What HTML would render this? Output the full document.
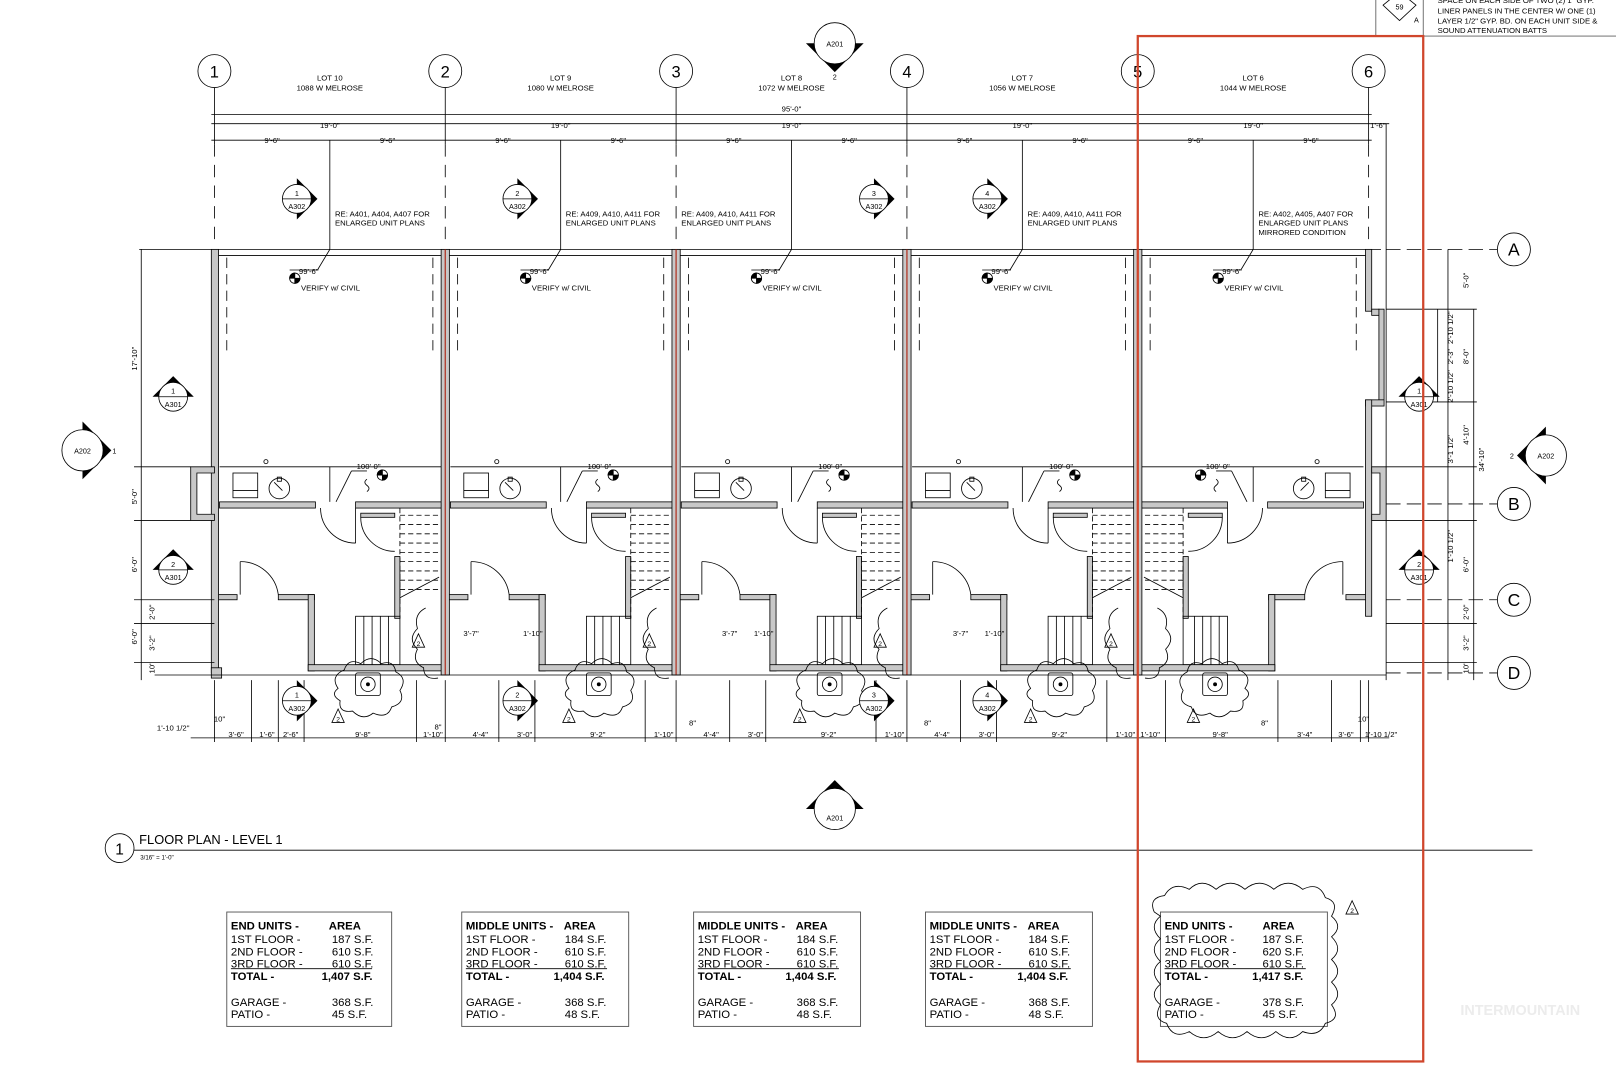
<!DOCTYPE html>
<html><head><meta charset="utf-8"><style>html,body{margin:0;padding:0;background:#fff}svg{display:block}</style></head>
<body>
<svg width="1616" height="1080" viewBox="0 0 1568 1048" xmlns="http://www.w3.org/2000/svg" font-family="Liberation Sans, sans-serif">
<defs>
<g id="unit" stroke="#000" stroke-width="0.8" fill="none">
  <line x1="12" y1="250" x2="12" y2="340" stroke-dasharray="10,6"/>
  <line x1="212" y1="250" x2="212" y2="340" stroke-dasharray="10,6"/>
  <line x1="5" y1="453" x2="220" y2="453"/>
  <line x1="112" y1="453" x2="112" y2="487"/>
  <rect x="18" y="459" width="24" height="24"/>
  <line x1="18" y1="476" x2="42" y2="476"/>
  <circle cx="63" cy="474" r="10"/>
  <line x1="58" y1="468" x2="66" y2="476"/>
  <rect x="61" y="463" width="4" height="4"/>
  <circle cx="50" cy="448" r="2"/>
  <rect x="5" y="487" width="93" height="6" fill="#c8c8c8"/>
  <rect x="137" y="487" width="85" height="6" fill="#c8c8c8"/>
  <line x1="137" y1="493" x2="137" y2="527"/>
  <path d="M103,493 A34,34 0 0 0 137,527"/>
  <rect x="142" y="498" width="33" height="4" fill="#c8c8c8"/>
  <path d="M142,502 A33,33 0 0 0 175,535"/>
  <rect x="175" y="540" width="5" height="60" fill="#c8c8c8"/>
  <g stroke-dasharray="5,3">
    <line x1="180" y1="500" x2="220" y2="500"/><line x1="180" y1="509" x2="220" y2="509"/>
    <line x1="180" y1="518" x2="220" y2="518"/><line x1="180" y1="527" x2="220" y2="527"/>
    <line x1="180" y1="536" x2="220" y2="536"/><line x1="180" y1="545" x2="220" y2="545"/>
    <line x1="180" y1="554" x2="220" y2="554"/><line x1="180" y1="563" x2="220" y2="563"/>
    <line x1="180" y1="572" x2="220" y2="572"/>
    <line x1="180" y1="493" x2="180" y2="600"/>
  </g>
  <line x1="180" y1="580" x2="218" y2="560"/>
  <rect x="137" y="598" width="43" height="47"/>
  <line x1="145" y1="598" x2="145" y2="645"/><line x1="153" y1="598" x2="153" y2="645"/>
  <line x1="161" y1="598" x2="161" y2="645"/><line x1="169" y1="598" x2="169" y2="645"/>
  <rect x="0" y="577" width="22" height="5" fill="#c8c8c8"/>
  <rect x="62" y="577" width="35" height="5" fill="#c8c8c8"/>
  <rect x="91" y="577" width="6" height="74" fill="#c8c8c8"/>
  <rect x="91" y="645" width="131" height="6" fill="#c8c8c8"/>
  <line x1="25" y1="545" x2="25" y2="577"/>
  <path d="M25,545 A37,37 0 0 1 62,577"/>
  <rect x="137" y="653" width="24" height="22" rx="2"/>
  <circle cx="149" cy="664" r="7"/><circle cx="149" cy="664" r="1.5" fill="#000"/>
  <path d="M120,668 q-8,-12 6,-18 q4,-12 16,-6 q10,-10 20,0 q12,-4 14,8 q12,6 4,18 q6,12 -8,16 q-4,12 -18,6 q-10,8 -20,-2 q-14,2 -12,-10 q-10,-6 -2,-12z"/>
  <path d="M205,590 q-12,6 -8,20 q-10,10 0,20 q-6,12 6,18 q0,12 14,10"/>
  <line x1="148" y1="457" x2="133" y2="457"/><line x1="133" y1="457" x2="118" y2="487"/>
  <circle cx="163" cy="461" r="5"/>
  <path d="M163,461 L163,456 A5,5 0 0 0 158,461Z M163,461 L168,461 A5,5 0 0 1 163,466Z" fill="#000"/>
  <path d="M148,477 q4,-3 0,-6 q-4,-3 0,-6" />
</g>
<g id="elev" stroke="#000" stroke-width="0.8" fill="none">
  <line x1="73" y1="262" x2="100" y2="262"/><line x1="100" y1="262" x2="112" y2="242"/>
  <circle cx="78" cy="270" r="5"/>
  <path d="M78,270 L78,265 A5,5 0 0 0 73,270Z M78,270 L83,270 A5,5 0 0 1 78,275Z" fill="#000"/>
</g>
<g id="secR"><polygon points="0,-20 20,0 0,20" fill="#000"/><circle r="14" fill="#fff" stroke="#000" stroke-width="0.8"/><line x1="-14" x2="14" stroke="#000" stroke-width="0.8"/></g>
<g id="secU"><polygon points="-20,0 0,-20 20,0" fill="#000"/><circle r="14" fill="#fff" stroke="#000" stroke-width="0.8"/><line x1="-14" x2="14" stroke="#000" stroke-width="0.8"/></g>
</defs>

<!-- top-right note -->
<rect x="1335" y="-2" width="250" height="37" fill="none" stroke="#555" stroke-width="0.8"/>
<line x1="1381" y1="0" x2="1381" y2="35" stroke="#555" stroke-width="0.8"/>
<polygon points="1358,-8 1374,5 1358,20 1342,5" fill="#fff" stroke="#000" stroke-width="0.8"/>
<text x="1358" y="9" font-size="7" text-anchor="middle">59</text>
<text x="1372" y="22" font-size="7">A</text>
<g font-size="7.5"><text x="1395" y="3">SPACE ON EACH SIDE OF TWO (2) 1" GYP.</text>
<text x="1395" y="13">LINER PANELS IN THE CENTER W/ ONE (1)</text>
<text x="1395" y="23">LAYER 1/2" GYP. BD. ON EACH UNIT SIDE &amp;</text>
<text x="1395" y="32">SOUND ATTENUATION BATTS</text></g>

<!-- grid bubbles -->
<g stroke="#000" stroke-width="0.8" fill="none">
<circle cx="208" cy="69" r="16"/><circle cx="432" cy="69" r="16"/><circle cx="656" cy="69" r="16"/>
<circle cx="880" cy="69" r="16"/><circle cx="1104" cy="69" r="16"/><circle cx="1328" cy="69" r="16"/>
<line x1="208" y1="85" x2="208" y2="140"/><line x1="432" y1="85" x2="432" y2="140"/><line x1="656" y1="85" x2="656" y2="140"/>
<line x1="880" y1="85" x2="880" y2="140"/><line x1="1104" y1="85" x2="1104" y2="140"/><line x1="1328" y1="85" x2="1328" y2="140"/>
<line x1="205" y1="111" x2="1331" y2="111"/>
<line x1="205" y1="120" x2="1348" y2="120"/>
<line x1="205" y1="136" x2="1331" y2="136"/>
<line x1="208" y1="140" x2="208" y2="232" stroke-dasharray="12,8"/>
<line x1="1328" y1="140" x2="1328" y2="232" stroke-dasharray="12,8"/>
<line x1="1345" y1="120" x2="1345" y2="660"/>
<line x1="320" y1="136" x2="320" y2="242"/><line x1="544" y1="136" x2="544" y2="242"/>
<line x1="768" y1="136" x2="768" y2="242"/><line x1="992" y1="136" x2="992" y2="242"/><line x1="1216" y1="136" x2="1216" y2="242"/>
<line x1="432" y1="140" x2="432" y2="232" stroke-dasharray="12,8"/><line x1="656" y1="140" x2="656" y2="232" stroke-dasharray="12,8"/>
<line x1="880" y1="140" x2="880" y2="232" stroke-dasharray="12,8"/><line x1="1104" y1="140" x2="1104" y2="232" stroke-dasharray="12,8"/>
</g>
<g font-size="16" text-anchor="middle"><text x="208" y="75">1</text><text x="432" y="75">2</text><text x="656" y="75">3</text><text x="880" y="75">4</text><text x="1104" y="75">5</text><text x="1328" y="75">6</text></g>
<g font-size="7.5" text-anchor="middle">
<text x="320" y="78">LOT 10</text><text x="320" y="88">1088 W MELROSE</text>
<text x="544" y="78">LOT 9</text><text x="544" y="88">1080 W MELROSE</text>
<text x="768" y="78">LOT 8</text><text x="768" y="88">1072 W MELROSE</text>
<text x="992" y="78">LOT 7</text><text x="992" y="88">1056 W MELROSE</text>
<text x="1216" y="78">LOT 6</text><text x="1216" y="88">1044 W MELROSE</text>
<text x="768" y="108">95'-0"</text>
<text x="320" y="124">19'-0"</text><text x="544" y="124">19'-0"</text><text x="768" y="124">19'-0"</text><text x="992" y="124">19'-0"</text><text x="1216" y="124">19'-0"</text><text x="1337" y="124">1'-6"</text>
<text x="264" y="139">9'-6"</text><text x="376" y="139">9'-6"</text><text x="488" y="139">9'-6"</text><text x="600" y="139">9'-6"</text>
<text x="712" y="139">9'-6"</text><text x="824" y="139">9'-6"</text><text x="936" y="139">9'-6"</text><text x="1048" y="139">9'-6"</text>
<text x="1160" y="139">9'-6"</text><text x="1272" y="139">9'-6"</text>
</g>
<g font-size="7.5">
<text x="325" y="210">RE: A401, A404, A407 FOR</text><text x="325" y="219">ENLARGED UNIT PLANS</text>
<text x="549" y="210">RE: A409, A410, A411 FOR</text><text x="549" y="219">ENLARGED UNIT PLANS</text>
<text x="661" y="210">RE: A409, A410, A411 FOR</text><text x="661" y="219">ENLARGED UNIT PLANS</text>
<text x="997" y="210">RE: A409, A410, A411 FOR</text><text x="997" y="219">ENLARGED UNIT PLANS</text>
<text x="1221" y="210">RE: A402, A405, A407 FOR</text><text x="1221" y="219">ENLARGED UNIT PLANS</text><text x="1221" y="228">MIRRORED CONDITION</text>
</g>

<!-- units -->
<use href="#unit" transform="translate(208,0)"/>
<use href="#unit" transform="translate(432,0)"/>
<use href="#unit" transform="translate(656,0)"/>
<use href="#unit" transform="translate(880,0)"/>
<use href="#unit" transform="translate(1328,0) scale(-1,1)"/>
<use href="#elev" transform="translate(208,0)"/><use href="#elev" transform="translate(432,0)"/>
<use href="#elev" transform="translate(656,0)"/><use href="#elev" transform="translate(880,0)"/>
<use href="#elev" transform="translate(1104,0)"/>
<g font-size="7.5">
<text x="290" y="266">99'-6"</text><text x="292" y="282">VERIFY w/ CIVIL</text>
<text x="514" y="266">99'-6"</text><text x="516" y="282">VERIFY w/ CIVIL</text>
<text x="738" y="266">99'-6"</text><text x="740" y="282">VERIFY w/ CIVIL</text>
<text x="962" y="266">99'-6"</text><text x="964" y="282">VERIFY w/ CIVIL</text>
<text x="1186" y="266">99'-6"</text><text x="1188" y="282">VERIFY w/ CIVIL</text>
<text x="346" y="455">100'-0"</text><text x="570" y="455">100'-0"</text><text x="794" y="455">100'-0"</text><text x="1018" y="455">100'-0"</text><text x="1170" y="455">100'-0"</text>
</g>

<!-- outer walls -->
<g stroke="#000" stroke-width="0.8" fill="#c8c8c8">
<line x1="135" y1="242" x2="1340" y2="242" fill="none"/>
<line x1="212" y1="248" x2="1325" y2="248" fill="none"/>
<rect x="205" y="242" width="7" height="411"/>
<path d="M208,453 H185 V505 H208 V499 H191 V459 H208Z"/>
<rect x="428" y="242" width="8" height="413"/><rect x="652" y="242" width="8" height="413"/>
<rect x="876" y="242" width="8" height="413"/><rect x="1100" y="242" width="8" height="413"/>
<rect x="1325" y="242" width="6" height="60"/>
<rect x="1331" y="300" width="7" height="6"/>
<rect x="1338" y="300" width="5" height="90"/>
<rect x="1325" y="388" width="18" height="6"/>
<rect x="1325" y="388" width="6" height="210"/>
<path d="M1331,453 H1345 V505 H1331 V499 H1339 V459 H1331Z"/>
<rect x="205" y="648" width="10" height="10"/>
</g>
<g stroke="#b03020" stroke-width="1.2">
<line x1="432" y1="242" x2="432" y2="655"/><line x1="656" y1="242" x2="656" y2="655"/>
<line x1="880" y1="242" x2="880" y2="655"/><line x1="1104" y1="242" x2="1104" y2="655"/>
</g>
<line x1="150" y1="655" x2="1345" y2="655" stroke="#000" stroke-width="0.8"/>

<!-- right grid -->
<g stroke="#000" stroke-width="0.8" fill="none">
<circle cx="1469" cy="242" r="16"/><circle cx="1469" cy="489" r="16"/><circle cx="1469" cy="582" r="16"/><circle cx="1469" cy="653" r="16"/>
<line x1="1345" y1="242" x2="1453" y2="242" stroke-dasharray="14,6"/>
<line x1="1345" y1="489" x2="1453" y2="489" stroke-dasharray="14,6"/>
<line x1="1345" y1="582" x2="1453" y2="582" stroke-dasharray="14,6"/>
<line x1="1345" y1="653" x2="1453" y2="653" stroke-dasharray="14,6"/>
<line x1="1405" y1="242" x2="1405" y2="660"/><line x1="1430" y1="300" x2="1430" y2="660"/>
<line x1="1395" y1="300" x2="1395" y2="390"/>
<line x1="1345" y1="300" x2="1433" y2="300"/><line x1="1345" y1="390" x2="1433" y2="390"/>
<line x1="1345" y1="453" x2="1433" y2="453"/><line x1="1345" y1="505" x2="1433" y2="505"/>
<line x1="1345" y1="605" x2="1433" y2="605"/><line x1="1345" y1="643" x2="1433" y2="643"/>
<line x1="137" y1="242" x2="137" y2="660"/>
<line x1="130" y1="453" x2="185" y2="453"/><line x1="130" y1="505" x2="185" y2="505"/>
<line x1="130" y1="582" x2="208" y2="582"/><line x1="130" y1="605" x2="208" y2="605"/><line x1="130" y1="643" x2="208" y2="643"/>
</g>
<g font-size="17" text-anchor="middle"><text x="1469" y="248">A</text><text x="1469" y="495">B</text><text x="1469" y="588">C</text><text x="1469" y="659">D</text></g>
<g font-size="7.5" text-anchor="middle">
<text transform="translate(1425,272) rotate(-90)">5'-0"</text>
<text transform="translate(1410,318) rotate(-90)">2'-10 1/2"</text>
<text transform="translate(1410,346) rotate(-90)">2'-3"</text>
<text transform="translate(1425,346) rotate(-90)">8'-0"</text>
<text transform="translate(1410,375) rotate(-90)">2'-10 1/2"</text>
<text transform="translate(1425,422) rotate(-90)">4'-10"</text>
<text transform="translate(1410,436) rotate(-90)">3'-1 1/2"</text>
<text transform="translate(1440,446) rotate(-90)">34'-10"</text>
<text transform="translate(1410,530) rotate(-90)">1'-10 1/2"</text>
<text transform="translate(1425,548) rotate(-90)">6'-0"</text>
<text transform="translate(1425,594) rotate(-90)">2'-0"</text>
<text transform="translate(1425,624) rotate(-90)">3'-2"</text>
<text transform="translate(1425,648) rotate(-90)">10"</text>
<text transform="translate(133,348) rotate(-90)">17'-10"</text>
<text transform="translate(133,482) rotate(-90)">5'-0"</text>
<text transform="translate(133,548) rotate(-90)">6'-0"</text>
<text transform="translate(150,594) rotate(-90)">2'-0"</text>
<text transform="translate(150,624) rotate(-90)">3'-2"</text>
<text transform="translate(133,618) rotate(-90)">6'-0"</text>
<text transform="translate(150,648) rotate(-90)">10"</text>
</g>

<!-- bottom dims -->
<g stroke="#000" stroke-width="0.8">
<line x1="185" y1="716" x2="1348" y2="716"/>
<line x1="208" y1="660" x2="208" y2="720"/><line x1="244" y1="660" x2="244" y2="720"/><line x1="270" y1="660" x2="270" y2="720"/>
<line x1="295" y1="660" x2="295" y2="720"/><line x1="404" y1="660" x2="404" y2="720"/><line x1="432" y1="660" x2="432" y2="720"/>
<line x1="484" y1="660" x2="484" y2="720"/><line x1="519" y1="660" x2="519" y2="720"/><line x1="626" y1="660" x2="626" y2="720"/>
<line x1="656" y1="660" x2="656" y2="720"/><line x1="708" y1="660" x2="708" y2="720"/><line x1="743" y1="660" x2="743" y2="720"/>
<line x1="850" y1="660" x2="850" y2="720"/><line x1="880" y1="660" x2="880" y2="720"/><line x1="932" y1="660" x2="932" y2="720"/>
<line x1="967" y1="660" x2="967" y2="720"/><line x1="1074" y1="660" x2="1074" y2="720"/><line x1="1104" y1="660" x2="1104" y2="720"/>
<line x1="1131" y1="660" x2="1131" y2="720"/><line x1="1240" y1="660" x2="1240" y2="720"/><line x1="1292" y1="660" x2="1292" y2="720"/>
<line x1="1320" y1="660" x2="1320" y2="720"/><line x1="1328" y1="660" x2="1328" y2="720"/>
</g>
<g font-size="7.5" text-anchor="middle">
<text x="168" y="709">1'-10 1/2"</text><text x="213" y="700">10"</text>
<text x="229" y="715">3'-6"</text><text x="259" y="715">1'-6"</text><text x="282" y="715">2'-6"</text><text x="352" y="715">9'-8"</text><text x="420" y="715">1'-10"</text>
<text x="466" y="715">4'-4"</text><text x="509" y="715">3'-0"</text><text x="580" y="715">9'-2"</text><text x="644" y="715">1'-10"</text>
<text x="690" y="715">4'-4"</text><text x="733" y="715">3'-0"</text><text x="804" y="715">9'-2"</text><text x="868" y="715">1'-10"</text>
<text x="914" y="715">4'-4"</text><text x="957" y="715">3'-0"</text><text x="1028" y="715">9'-2"</text><text x="1092" y="715">1'-10"</text>
<text x="1116" y="715">1'-10"</text><text x="1184" y="715">9'-8"</text><text x="1266" y="715">3'-4"</text><text x="1306" y="715">3'-6"</text><text x="1340" y="715">1'-10 1/2"</text>
<text x="425" y="708">8"</text><text x="672" y="704">8"</text><text x="900" y="704">8"</text><text x="1227" y="704">8"</text><text x="1323" y="700">10"</text>
<text x="457" y="617">3'-7"</text><text x="517" y="617">1'-10"</text><text x="708" y="617">3'-7"</text><text x="741" y="617">1'-10"</text>
<text x="932" y="617">3'-7"</text><text x="965" y="617">1'-10"</text>
</g>

<!-- section markers -->
<use href="#secR" transform="translate(288,193)"/><use href="#secR" transform="translate(502,193)"/>
<use href="#secR" transform="translate(848,193)"/><use href="#secR" transform="translate(958,193)"/>
<use href="#secR" transform="translate(288,680)"/><use href="#secR" transform="translate(502,680)"/>
<use href="#secR" transform="translate(848,680)"/><use href="#secR" transform="translate(958,680)"/>
<use href="#secU" transform="translate(168,385)"/><use href="#secU" transform="translate(168,553)"/>
<use href="#secU" transform="translate(1377,385)"/><use href="#secU" transform="translate(1377,553)"/>
<polygon points="80,409 108,437 80,465" fill="#000"/><circle cx="80" cy="437" r="20" fill="#fff" stroke="#000" stroke-width="0.8"/>
<polygon points="1500,414 1472,442 1500,470" fill="#000"/><circle cx="1500" cy="442" r="20" fill="#fff" stroke="#000" stroke-width="0.8"/>
<polygon points="782,42 810,70 838,42" fill="#000"/><circle cx="810" cy="42" r="20" fill="#fff" stroke="#000" stroke-width="0.8"/>
<polygon points="782,785 810,757 838,785" fill="#000"/><circle cx="810" cy="785" r="20" fill="#fff" stroke="#000" stroke-width="0.8"/>
<g font-size="7" text-anchor="middle">
<text x="288" y="190">1</text><text x="288" y="203">A302</text>
<text x="502" y="190">2</text><text x="502" y="203">A302</text>
<text x="848" y="190">3</text><text x="848" y="203">A302</text>
<text x="958" y="190">4</text><text x="958" y="203">A302</text>
<text x="288" y="677">1</text><text x="288" y="690">A302</text>
<text x="502" y="677">2</text><text x="502" y="690">A302</text>
<text x="848" y="677">3</text><text x="848" y="690">A302</text>
<text x="958" y="677">4</text><text x="958" y="690">A302</text>
<text x="168" y="382">1</text><text x="168" y="395">A301</text>
<text x="168" y="550">2</text><text x="168" y="563">A301</text>
<text x="1377" y="382">1</text><text x="1377" y="395">A301</text>
<text x="1377" y="550">2</text><text x="1377" y="563">A301</text>
<text x="80" y="440">A202</text><text x="111" y="440">1</text>
<text x="1500" y="445">A202</text><text x="1467" y="445">2</text>
<text x="810" y="45">A201</text><text x="810" y="77">2</text>
<text x="810" y="796">A201</text><text x="810" y="762">1</text>
</g>
<g stroke="#000" stroke-width="0.8" fill="none">
<polygon points="406,615 400,628 412,628"/><polygon points="630,615 624,628 636,628"/><polygon points="854,615 848,628 860,628"/><polygon points="1078,615 1072,628 1084,628"/>
<polygon points="328,688 322,701 334,701"/><polygon points="552,688 546,701 558,701"/><polygon points="776,688 770,701 782,701"/><polygon points="1000,688 994,701 1006,701"/><polygon points="1158,688 1152,701 1164,701"/>
<polygon points="1312,874 1306,887 1318,887"/>
</g>
<g font-size="6.5" text-anchor="middle">
<text x="406" y="627">2</text><text x="630" y="627">2</text><text x="854" y="627">2</text><text x="1078" y="627">2</text>
<text x="328" y="700">2</text><text x="552" y="700">2</text><text x="776" y="700">2</text><text x="1000" y="700">2</text><text x="1158" y="700">2</text><text x="1312" y="886">2</text>
</g>

<!-- title -->
<circle cx="116" cy="823" r="14" fill="none" stroke="#000" stroke-width="0.8"/>
<text x="116" y="829" font-size="15" text-anchor="middle">1</text>
<text x="135" y="819" font-size="12.5">FLOOR PLAN - LEVEL 1</text>
<line x1="130" y1="825" x2="1487" y2="825" stroke="#000" stroke-width="0.8"/>
<text x="136" y="834" font-size="6">3/16" = 1'-0"</text>

<!-- tables -->
<g stroke="#555" stroke-width="0.9" fill="none">
<rect x="220" y="885" width="160" height="111"/><rect x="448" y="885" width="162" height="111"/>
<rect x="673" y="885" width="162" height="111"/><rect x="898" y="885" width="162" height="111"/>
<rect x="1126" y="885" width="162" height="111"/>
<line x1="224" y1="940" x2="361" y2="940" stroke="#000"/><line x1="452" y1="940" x2="589" y2="940" stroke="#000"/>
<line x1="677" y1="940" x2="814" y2="940" stroke="#000"/><line x1="902" y1="940" x2="1039" y2="940" stroke="#000"/>
<line x1="1130" y1="940" x2="1267" y2="940" stroke="#000"/>
<path d="M1120,885 q-6,-14 10,-16 q8,-14 24,-6 q12,-12 26,0 q14,-12 28,0 q14,-12 28,0 q14,-12 28,0 q16,-8 22,8 q14,4 6,18 q12,10 0,20 q12,12 0,22 q12,12 0,22 q12,12 0,22 q10,14 -6,18 q-6,14 -22,8 q-12,12 -26,0 q-14,12 -28,0 q-14,12 -28,0 q-14,12 -28,0 q-16,8 -22,-8 q-14,-4 -6,-18 q-12,-10 0,-20 q-12,-12 0,-22 q-12,-12 0,-22 q-12,-12 0,-22z" stroke="#000" stroke-width="0.8"/>
</g>
<g font-size="11">
<g transform="translate(224,0)"><text y="902" font-weight="bold">END UNITS -</text><text x="95" y="902" font-weight="bold">AREA</text>
<text y="915">1ST FLOOR -</text><text x="98" y="915">187 S.F.</text><text y="927">2ND FLOOR -</text><text x="98" y="927">610 S.F.</text>
<text y="939">3RD FLOOR -</text><text x="98" y="939">610 S.F.</text><text y="951" font-weight="bold">TOTAL -</text><text x="88" y="951" font-weight="bold">1,407 S.F.</text>
<text y="976">GARAGE -</text><text x="98" y="976">368 S.F.</text><text y="988">PATIO -</text><text x="98" y="988">45 S.F.</text></g>
<g transform="translate(452,0)"><text y="902" font-weight="bold">MIDDLE UNITS -</text><text x="95" y="902" font-weight="bold">AREA</text>
<text y="915">1ST FLOOR -</text><text x="96" y="915">184 S.F.</text><text y="927">2ND FLOOR -</text><text x="96" y="927">610 S.F.</text>
<text y="939">3RD FLOOR -</text><text x="96" y="939">610 S.F.</text><text y="951" font-weight="bold">TOTAL -</text><text x="85" y="951" font-weight="bold">1,404 S.F.</text>
<text y="976">GARAGE -</text><text x="96" y="976">368 S.F.</text><text y="988">PATIO -</text><text x="96" y="988">48 S.F.</text></g>
<g transform="translate(677,0)"><text y="902" font-weight="bold">MIDDLE UNITS -</text><text x="95" y="902" font-weight="bold">AREA</text>
<text y="915">1ST FLOOR -</text><text x="96" y="915">184 S.F.</text><text y="927">2ND FLOOR -</text><text x="96" y="927">610 S.F.</text>
<text y="939">3RD FLOOR -</text><text x="96" y="939">610 S.F.</text><text y="951" font-weight="bold">TOTAL -</text><text x="85" y="951" font-weight="bold">1,404 S.F.</text>
<text y="976">GARAGE -</text><text x="96" y="976">368 S.F.</text><text y="988">PATIO -</text><text x="96" y="988">48 S.F.</text></g>
<g transform="translate(902,0)"><text y="902" font-weight="bold">MIDDLE UNITS -</text><text x="95" y="902" font-weight="bold">AREA</text>
<text y="915">1ST FLOOR -</text><text x="96" y="915">184 S.F.</text><text y="927">2ND FLOOR -</text><text x="96" y="927">610 S.F.</text>
<text y="939">3RD FLOOR -</text><text x="96" y="939">610 S.F.</text><text y="951" font-weight="bold">TOTAL -</text><text x="85" y="951" font-weight="bold">1,404 S.F.</text>
<text y="976">GARAGE -</text><text x="96" y="976">368 S.F.</text><text y="988">PATIO -</text><text x="96" y="988">48 S.F.</text></g>
<g transform="translate(1130,0)"><text y="902" font-weight="bold">END UNITS -</text><text x="95" y="902" font-weight="bold">AREA</text>
<text y="915">1ST FLOOR -</text><text x="95" y="915">187 S.F.</text><text y="927">2ND FLOOR -</text><text x="95" y="927">620 S.F.</text>
<text y="939">3RD FLOOR -</text><text x="95" y="939">610 S.F.</text><text y="951" font-weight="bold">TOTAL -</text><text x="85" y="951" font-weight="bold">1,417 S.F.</text>
<text y="976">GARAGE -</text><text x="95" y="976">378 S.F.</text><text y="988">PATIO -</text><text x="95" y="988">45 S.F.</text></g>
</g>
<text x="1417" y="985" font-size="14" font-weight="bold" fill="#ececec">INTERMOUNTAIN</text>

<!-- red highlight -->
<rect x="1104" y="35" width="277" height="995" fill="none" stroke="#d0462c" stroke-width="2.2"/>
</svg>
</body></html>
